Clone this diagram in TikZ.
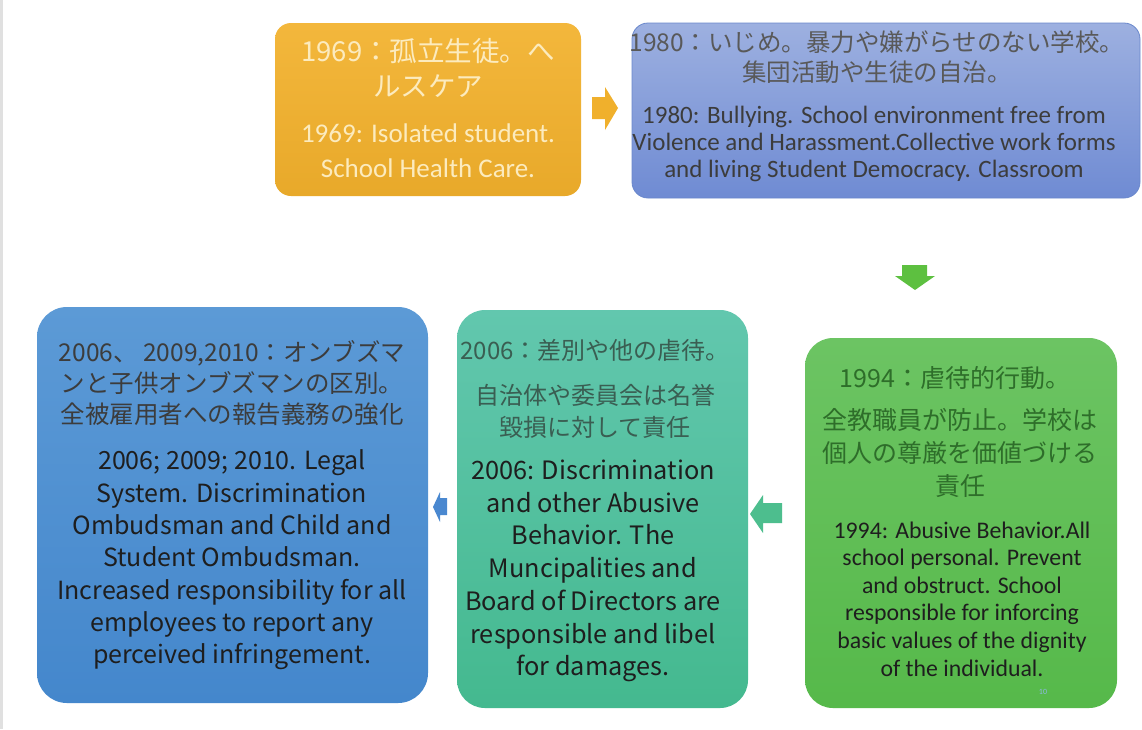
\documentclass[tikz,border=0pt]{standalone}
\usepackage{fontspec}
\setmainfont{Carlito}
\newfontfamily\jp{Noto Sans CJK JP}
\definecolor{o1}{HTML}{F3B73C}\definecolor{o2}{HTML}{E8A92A}
\definecolor{p1}{HTML}{9DB0E0}\definecolor{p2}{HTML}{6F8BD3}\definecolor{pb}{HTML}{6A88CC}
\definecolor{g1}{HTML}{6CC463}\definecolor{g2}{HTML}{56B94A}
\definecolor{t1}{HTML}{62C7AE}\definecolor{t2}{HTML}{44B98F}
\definecolor{b1}{HTML}{5C9AD6}\definecolor{b2}{HTML}{4487CC}
\definecolor{lighttxt}{HTML}{FCEBBE}
\definecolor{greytxt}{HTML}{3C3C3C}
\definecolor{greenjp}{HTML}{2E6E2A}
\definecolor{tealjp}{HTML}{3A5E52}
\definecolor{darktxt}{HTML}{1E1E1E}
\definecolor{arO}{HTML}{F0B02C}\definecolor{arG}{HTML}{5DC040}
\definecolor{arT}{HTML}{4DBE8E}\definecolor{arB}{HTML}{4A88D0}
\tikzset{
  box/.style={inner sep=0pt, rounded corners=#1},
  txt/.style={align=center, inner sep=0pt},
}
\begin{document}
\begin{tikzpicture}[x=1pt,y=-1pt]
\fill[white] (0,0) rectangle (1142,729);
\useasboundingbox (0,0) rectangle (1142,729);
\draw[line width=3pt, color=black!12] (1.5,0) -- (1.5,729);

% boxes
\node[box=16pt, top color=o1, bottom color=o2, minimum width=306pt, minimum height=173pt] (n1969) at (428,109.5) {};
\node[box=16pt, top color=p1, bottom color=p2, draw=pb, line width=0.8pt, minimum width=508pt, minimum height=175pt] (n1980) at (886,110.5) {};
\node[box=28pt, top color=g1, bottom color=g2, minimum width=312pt, minimum height=370pt] (n1994) at (961,523) {};
\node[box=28pt, top color=t1, bottom color=t2, minimum width=291pt, minimum height=398pt] (n2006) at (602.5,509) {};
\node[box=30pt, top color=b1, bottom color=b2, minimum width=391pt, minimum height=396pt] (n2010) at (232.5,505) {};

% box 1 text
\node[txt, text=lighttxt, font=\jp\fontsize{27.5}{35}\selectfont] (t1969jp) at (428,67.5) {1969：孤立生徒。へ\\ルスケア};
\node[txt, text=lighttxt, font=\fontsize{27}{35}\selectfont] (t1969en) at (428,150.5) {1969: Isolated student.\\School Health Care.};

% box 2 text
\node[txt, text=greytxt!85, font=\jp\fontsize{24.5}{30}\selectfont] (t1980jp) at (877,57) {1980：いじめ。暴力や嫌がらせのない学校。\\集団活動や生徒の自治。};
\node[txt, text=greytxt, font=\fontsize{25}{27}\selectfont] (t1980en) at (874,144) {1980: Bullying. School environment free from\\Violence and Harassment.Collective work forms\\and living Student Democracy. Classroom};

% box 3 text
\node[txt, text=greenjp, font=\jp\fontsize{25}{33}\selectfont] (t1994jpa) at (955,378) {1994：虐待的行動。};
\node[txt, text=greenjp, font=\jp\fontsize{25}{33}\selectfont] (t1994jpb) at (960,453) {全教職員が防止。学校は\\個人の尊厳を価値づける\\責任};
\node[txt, text=darktxt, font=\fontsize{23.8}{27.6}\selectfont] (t1994en) at (962,599) {1994: Abusive Behavior.All\\school personal. Prevent\\and obstruct. School\\responsible for inforcing\\basic values of the dignity\\of the individual.};
\node[txt, text=b1!70, font=\fontsize{8}{8}\selectfont] (pageno) at (1043,692) {10};

% box 4 text
\node[txt, text=tealjp, font=\jp\fontsize{24}{32}\selectfont] (t2006jpa) at (595,350) {2006：差別や他の虐待。};
\node[txt, text=tealjp, font=\jp\fontsize{24}{32}\selectfont] (t2006jpb) at (595,411) {自治体や委員会は名誉\\毀損に対して責任};
\node[txt, text=darktxt, font=\jp\fontsize{25.3}{32.7}\selectfont] (t2006en) at (593,571) {2006: Discrimination\\and other Abusive\\Behavior. The\\Muncipalities and\\Board of Directors are\\responsible and libel\\for damages.};

% box 5 text
\node[txt, text=greytxt, font=\jp\fontsize{24.5}{31}\selectfont] (t2010jp) at (232,383) {2006、 2009,2010：オンブズマ\\ンと子供オンブズマンの区別。\\全被雇用者への報告義務の強化};
\node[txt, text=darktxt, font=\jp\fontsize{25}{32.3}\selectfont] (t2010en) at (232,560) {2006; 2009; 2010. Legal\\System. Discrimination\\Ombudsman and Child and\\Student Ombudsman.\\Increased responsibility for all\\employees to report any\\perceived infringement.};

% block arrows
\fill[arO] (592,97) -- (605,97) -- (605,87) -- (618,108) -- (605,130) -- (605,119) -- (592,119) -- cycle;
\fill[arG] (902,265) -- (927,265) -- (927,276) -- (935,276) -- (915,290) -- (895,276) -- (902,276) -- cycle;
\fill[arT] (782,503) -- (763,503) -- (763,495) -- (750,514) -- (763,533) -- (763,523) -- (782,523) -- cycle;
\fill[arB] (447,498) -- (440,498) -- (440,492) -- (433,507) -- (440,522) -- (440,515) -- (447,515) -- cycle;
\end{tikzpicture}
\end{document}
